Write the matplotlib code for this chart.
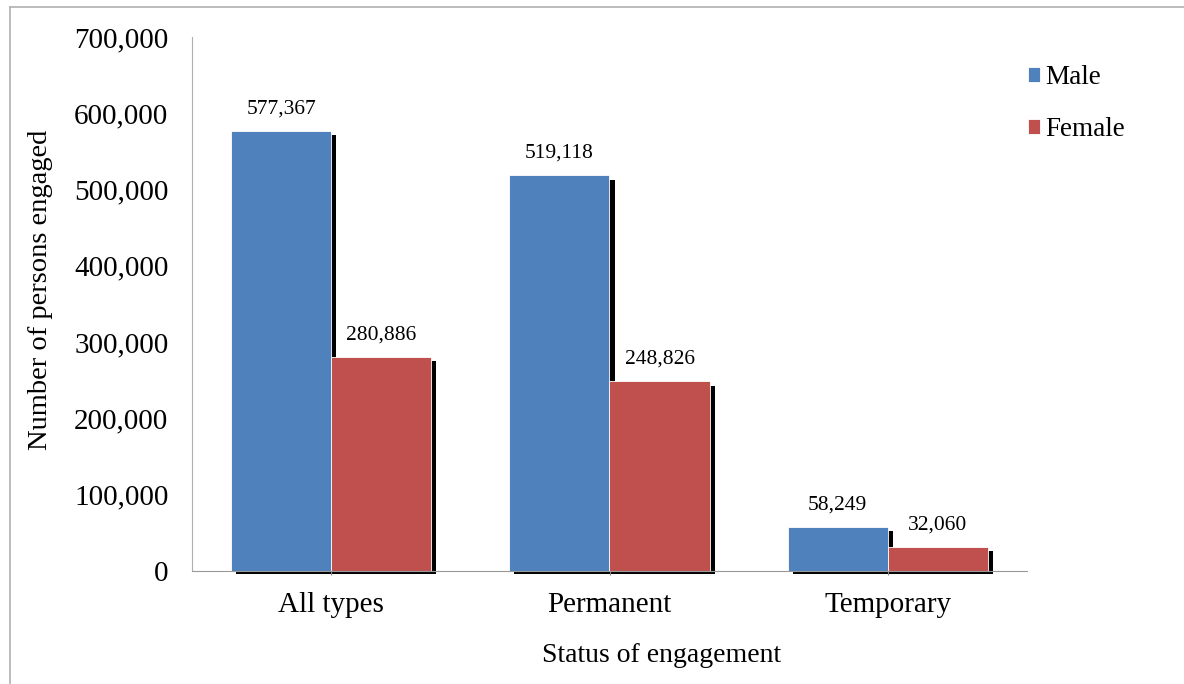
import matplotlib.pyplot as plt
from matplotlib.lines import Line2D
import numpy as np

categories = ["All types", "Permanent", "Temporary"]
male = [577367, 519118, 58249]
female = [280886, 248826, 32060]

plt.rcParams['font.family'] = ['Liberation Serif', 'DejaVu Serif']

fig = plt.figure(figsize=(11.84, 6.84), dpi=100)
ax = fig.add_axes([192 / 1184, 1 - 571 / 684, 835 / 1184, 534 / 684])

x = np.arange(len(categories))
w = 0.36
blue = "#4f81bd"
red = "#c0504d"

# shadows (black, shifted right/down)
dx = 0.018
for xs, vals in [(x - w / 2, male), (x + w / 2, female)]:
    for xi, v in zip(xs, vals):
        ax.bar(xi + dx, v - 2500, bottom=-3500, width=w, color="black",
               zorder=1, clip_on=False)

ax.bar(x - w / 2, male, width=w, color=blue, edgecolor="white", linewidth=0.6,
       zorder=2, label="Male")
ax.bar(x + w / 2, female, width=w, color=red, edgecolor="white", linewidth=0.6,
       zorder=2, label="Female")

for xi, v in zip(x - w / 2, male):
    ax.text(xi, v + 16000, f"{v:,}", ha="center", va="bottom", fontsize=15.5)
for xi, v in zip(x + w / 2, female):
    ax.text(xi, v + 16000, f"{v:,}", ha="center", va="bottom", fontsize=15.5)

ax.set_xlim(-0.5, 2.5)
ax.set_ylim(0, 700000)
ax.set_yticks(range(0, 700001, 100000))
ax.set_yticklabels([f"{t:,}" for t in range(0, 700001, 100000)], fontsize=21)
ax.set_xticks(x)
ax.set_xticklabels(categories, fontsize=21)
ax.tick_params(axis="y", length=0, pad=17)
ax.tick_params(axis="x", length=3, color="#888888", pad=12)

for s in ["top", "right"]:
    ax.spines[s].set_visible(False)
ax.spines["left"].set_color("#b0b0b0")
ax.spines["bottom"].set_color("#999999")

ax.set_ylabel("Number of persons engaged", fontsize=20.5)
ax.yaxis.set_label_coords(-0.166, 0.526)
ax.set_xlabel("Status of engagement", fontsize=20)
ax.xaxis.set_label_coords(0.562, -0.135)

leg = ax.legend(loc="upper left", bbox_to_anchor=(0.972, 0.993), frameon=False,
                fontsize=19.5, handlelength=0.45, handleheight=0.45,
                handletextpad=0.2, labelspacing=1.0)

# outer frame lines
fig.add_artist(Line2D([10 / 1184, 10 / 1184], [0, 1 - 7 / 684], color="#b0b0b0", lw=1.2))
fig.add_artist(Line2D([10 / 1184, 1], [1 - 7 / 684, 1 - 7 / 684], color="#b0b0b0", lw=1.2))

fig.savefig("out.png", dpi=100)
